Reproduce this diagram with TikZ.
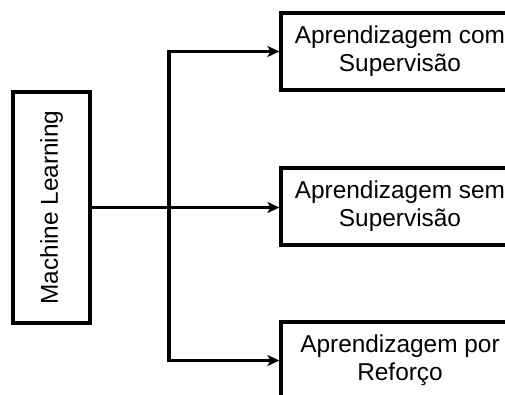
\documentclass[tikz,border=0pt]{standalone}
\usepackage{fontspec}
\setmainfont{Liberation Sans}
\usetikzlibrary{arrows.meta}
\begin{document}
\begin{tikzpicture}[x=1pt,y=-1pt,
  box/.style={draw=black,line width=3.2pt,fill=white,inner sep=0pt,align=center,
    font=\fontsize{24.4}{28}\selectfont},
  catbox/.style={box,minimum width=238pt,minimum height=77pt},
  link/.style={line width=3.2pt},
  arr/.style={link,-{Stealth[length=12pt,width=11pt,inset=3pt]}}]
\useasboundingbox (0,0) rectangle (505,394);
\clip (0,0) rectangle (505,394);
\node[box,minimum width=231pt,minimum height=77pt,rotate=90] (ml) at (51.5,207.5) {Machine Learning};
\node[catbox] (b1) at (400,51.5) {Aprendizagem com\\Supervisão};
\node[catbox] (b2) at (400,206.5) {Aprendizagem sem\\Supervisão};
\node[catbox] (b3) at (400,360.5) {Aprendizagem por\\Reforço};
\coordinate (j) at (169,207.5);
\draw[link] (ml.south) -- (j);
\draw[arr] (j) |- (b1.west);
\draw[arr] (j) -- (j -| b2.west);
\draw[arr] (j) |- (b3.west);
\end{tikzpicture}
\end{document}
